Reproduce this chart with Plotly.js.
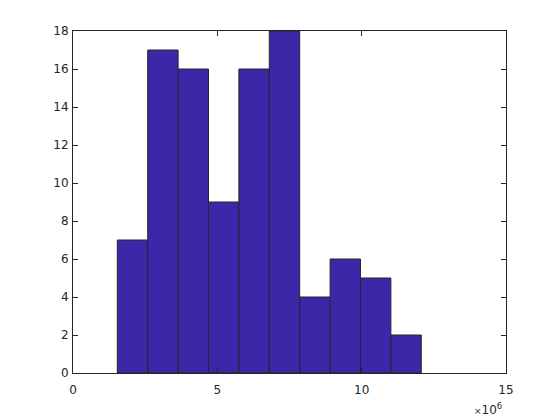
<!DOCTYPE html>
<html><head><meta charset="utf-8">
<script src="https://cdn.plot.ly/plotly-3.0.1.min.js"></script>
<style>html,body{margin:0;padding:0;background:#fff}#plot{width:560px;height:420px}</style>
</head><body><div id="plot"></div>
<script>
// bin edges (×10^6) and counts
const binEdges = [1.535, 2.588, 3.641, 4.694, 5.747, 6.800, 7.853, 8.906, 9.959, 11.012, 12.065];
const counts = [7, 17, 16, 9, 16, 18, 4, 6, 5, 2];
const xTicks = [0, 5, 10, 15];
const yTicks = [0, 2, 4, 6, 8, 10, 12, 14, 16, 18];

const centers = counts.map((c, i) => (binEdges[i] + binEdges[i + 1]) / 2);
const widths = counts.map((c, i) => binEdges[i + 1] - binEdges[i]);

const axisCommon = {
  showgrid: false, zeroline: false, showline: true, linecolor: '#262626', linewidth: 1,
  mirror: 'ticks', ticks: 'inside', ticklen: 5, tickwidth: 1, tickcolor: '#262626',
  tickfont: {family: 'DejaVu Sans, sans-serif', size: 12, color: '#262626'}
};

Plotly.newPlot('plot', [{
  type: 'bar', x: centers, y: counts, width: widths,
  marker: {color: 'rgb(62,38,168)', line: {color: '#262626', width: 1}},
  hoverinfo: 'none'
}], {
  width: 560, height: 420,
  margin: {l: 73, r: 54, t: 31, b: 47},
  paper_bgcolor: '#fff', plot_bgcolor: '#fff',
  showlegend: false, bargap: 0,
  xaxis: Object.assign({}, axisCommon, {range: [0, 15], tickvals: xTicks, ticktext: xTicks.map(String), ticklabelstandoff: 6}),
  yaxis: Object.assign({}, axisCommon, {range: [0, 18], tickvals: yTicks, ticktext: yTicks.map(String), ticklabelstandoff: 1}),
  annotations: [{
    xref: 'paper', yref: 'paper', x: 1, y: 0, xanchor: 'right', yanchor: 'top', yshift: -26, xshift: -2,
    text: '<span style="font-size:9px">×</span>10<sup>6</sup>', showarrow: false,
    font: {family: 'DejaVu Sans, sans-serif', size: 12, color: '#262626'}
  }]
}, {staticPlot: true});
</script></body></html>
